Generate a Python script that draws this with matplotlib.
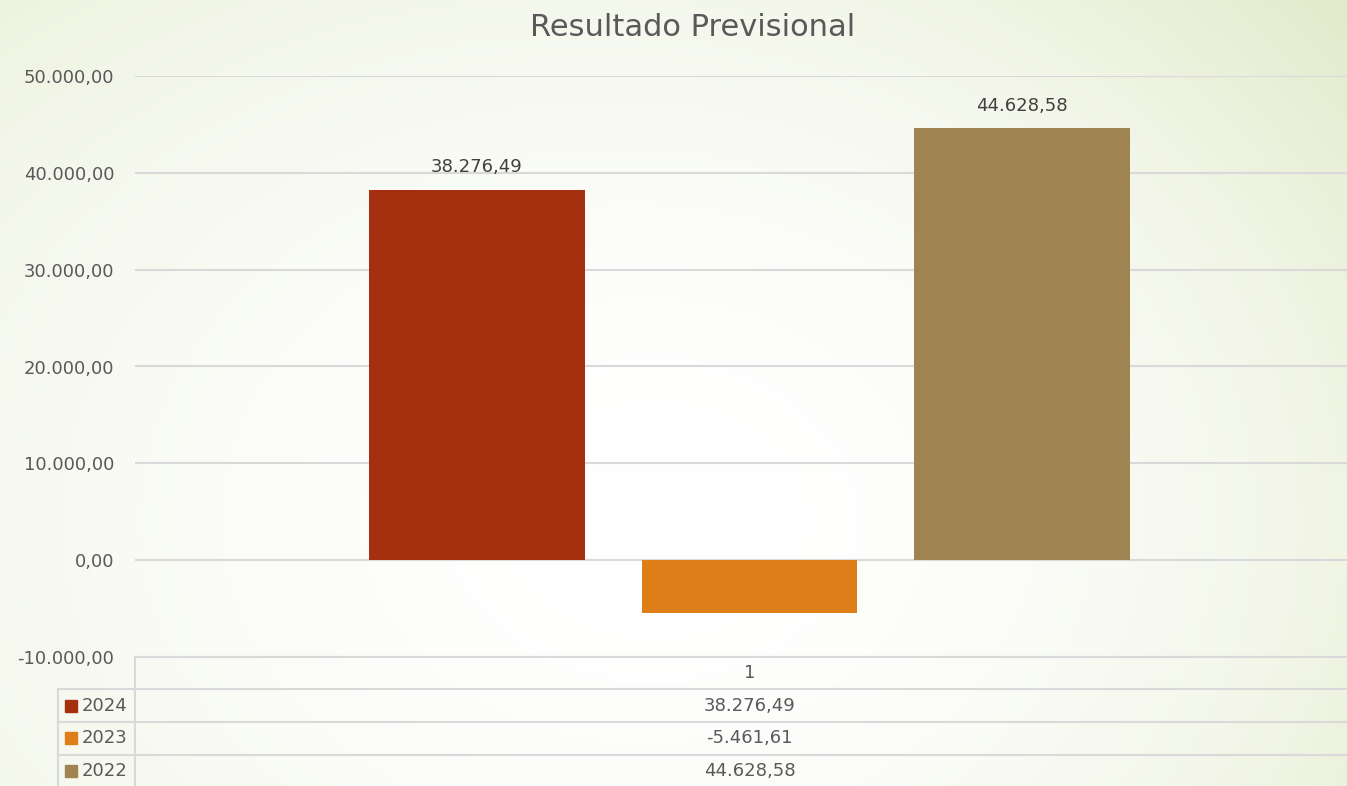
import numpy as np
import matplotlib
matplotlib.use("Agg")
import matplotlib.pyplot as plt
from matplotlib.patches import Rectangle
from matplotlib.lines import Line2D
from matplotlib.transforms import blended_transform_factory

# -------- DATA --------
title = "Resultado Previsional"
series = ["2024", "2023", "2022"]
values = [38276.49, -5461.61, 44628.58]
colors = ["#A5300F", "#DE7E18", "#9F8351"]
category = "1"
yticks = [-10000, 0, 10000, 20000, 30000, 40000, 50000]


def fmt_pt(v):
    s = f"{v:,.2f}"
    return s.replace(",", "X").replace(".", ",").replace("X", ".")


W, H = 1347, 786
plt.rcParams["font.family"] = ["DejaVu Sans"]
text_col = "#595959"
grid_col = "#d9d9d9"
fs = 13

fig = plt.figure(figsize=(W / 100, H / 100), dpi=100)


def fx(px):
    return px / W


def fy(py):
    return 1 - py / H


# -------- BACKGROUND GRADIENT --------
bg = fig.add_axes([0, 0, 1, 1], zorder=-10)
yy, xx = np.mgrid[0:H, 0:W]
d = np.sqrt(((xx - 660) / 950.0) ** 2 + ((yy - 520) / 750.0) ** 2)
t = np.clip(d, 0, 1) ** 2.0 * (0.6 + 0.4 * xx / W)
white = np.array([1.0, 1.0, 1.0])
green = np.array([0xe2, 0xea, 0xca]) / 255.0
img = white[None, None, :] * (1 - t[..., None]) + green[None, None, :] * t[..., None]
bg.imshow(img, aspect="auto", extent=[0, 1, 0, 1])
bg.axis("off")

# -------- MAIN AXES --------
left, right, top, bottom = 135, 1347, 76, 657
ax = fig.add_axes([fx(left), fy(bottom), fx(right - left), (bottom - top) / H])
ax.patch.set_alpha(0)

x = np.arange(len(series)) - 1
ax.bar(x, values, width=0.79, color=colors, zorder=3)
ax.set_xlim(-2.255, 2.193)
ax.set_ylim(-10000, 50000)
ax.set_yticks(yticks)
ax.set_yticklabels([fmt_pt(v) for v in yticks], fontsize=fs, color=text_col)
ax.tick_params(axis="y", length=0, pad=15)
ax.set_xticks([])
ax.grid(axis="y", color=grid_col, lw=1.5, zorder=0)
for s in ax.spines.values():
    s.set_visible(False)

for xi, v in zip(x, values):
    if v > 0:
        ax.annotate(fmt_pt(v), (xi, v), xytext=(0, 16), textcoords="offset points",
                    ha="center", va="center", fontsize=fs, color="#404040")

fig.text(0.5145, fy(28), title, ha="center", va="center", fontsize=22, color=text_col)

# -------- DATA TABLE --------
row_lines = [689, 722, 755]
for py in row_lines:
    fig.add_artist(Line2D([fx(58), 1], [fy(py), fy(py)], color=grid_col, lw=1.5))
fig.add_artist(Line2D([fx(135), 1], [fy(657), fy(657)], color=grid_col, lw=1.5))
fig.add_artist(Line2D([fx(135), fx(135)], [fy(657), 0], color=grid_col, lw=1.5))
fig.add_artist(Line2D([fx(58), fx(58)], [fy(689), 0], color=grid_col, lw=1.5))

tr = blended_transform_factory(ax.transData, fig.transFigure)
ax.text(0, fy(673), category, transform=tr, ha="center", va="center",
        fontsize=fs, color=text_col, clip_on=False)

row_centers = [706, 738, 771]
for name, v, c, py in zip(series, values, colors, row_centers):
    ax.text(0, fy(py), fmt_pt(v), transform=tr, ha="center", va="center",
            fontsize=fs, color=text_col, clip_on=False)
    fig.add_artist(Rectangle((fx(65), fy(py + 6)), fx(12), 12 / H, color=c))
    fig.text(fx(82), fy(py), name, ha="left", va="center", fontsize=fs, color=text_col)

fig.savefig("out.png", dpi=100)
